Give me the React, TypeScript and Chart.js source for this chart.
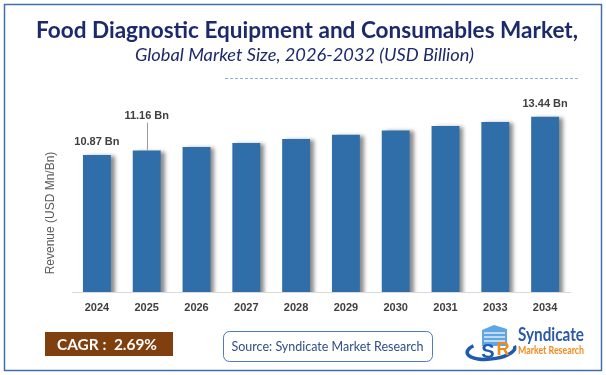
import React, { useEffect, useRef } from "react";
import { Chart, registerables } from "chart.js";

Chart.register(...registerables);

const categories = ["2024", "2025", "2026", "2027", "2028", "2029", "2030", "2031", "2033", "2034"];
const values = [10.87, 11.16, 11.41, 11.68, 11.95, 12.23, 12.52, 12.83, 13.1, 13.44];
const valueLabels = ["10.87 Bn", "11.16 Bn", "", "", "", "", "", "", "", "13.44 Bn"];
const titleText = "Food Diagnostic Equipment and Consumables Market,";
const subtitleText = "Global Market Size, 2026-2032 (USD Billion)";
const yAxisTitle = "Revenue (USD Mn/Bn)";
const cagrText = "CAGR :  2.69%";
const sourceText = "Source: Syndicate Market Research";

function fitText(
  ctx: CanvasRenderingContext2D,
  text: string,
  cx: number,
  y: number,
  width: number,
  font: string,
  color: string
) {
  ctx.save();
  ctx.font = font;
  const w = ctx.measureText(text).width || 1;
  ctx.translate(cx, y);
  ctx.scale(width / w, 1);
  ctx.textAlign = "center";
  ctx.textBaseline = "alphabetic";
  ctx.fillStyle = color;
  ctx.fillText(text, 0, 0);
  ctx.restore();
}

const decorPlugin = {
  id: "decor",
  beforeDraw(chart: any) {
    const ctx: CanvasRenderingContext2D = chart.ctx;
    ctx.save();
    ctx.fillStyle = "#ffffff";
    ctx.fillRect(0, 0, chart.width, chart.height);
    // outer border
    ctx.strokeStyle = "#3F6FAE";
    ctx.lineWidth = 1.5;
    ctx.strokeRect(4.5, 4.5, 597, 366);
    // dashed line
    ctx.strokeStyle = "#8FAEDB";
    ctx.lineWidth = 1;
    ctx.setLineDash([3, 2]);
    ctx.beginPath();
    ctx.moveTo(225, 78.5);
    ctx.lineTo(578, 78.5);
    ctx.stroke();
    ctx.setLineDash([]);
    ctx.restore();

    fitText(ctx, titleText, 307, 38, 542, "bold 22px Lato", "#1C2A6B");
    fitText(ctx, subtitleText, 304.5, 61, 339, "italic 17px Lato", "#1C2A6B");

    // y axis title
    ctx.save();
    ctx.translate(51, 213);
    ctx.rotate(-Math.PI / 2);
    ctx.font = "12px 'Liberation Sans'";
    ctx.fillStyle = "#595959";
    ctx.textAlign = "center";
    ctx.textBaseline = "middle";
    ctx.fillText(yAxisTitle, 0, 0);
    ctx.restore();

    // CAGR box
    ctx.save();
    ctx.fillStyle = "#7F3F0F";
    ctx.fillRect(45, 332, 128, 24);
    ctx.restore();
    fitText(ctx, cagrText, 107, 350, 100, "bold 16px Lato", "#ffffff");

    // Source box
    ctx.save();
    ctx.strokeStyle = "#4A7CC0";
    ctx.lineWidth = 1;
    ctx.beginPath();
    (ctx as any).roundRect(223.5, 331.5, 209, 30, 6);
    ctx.stroke();
    ctx.restore();
    fitText(ctx, sourceText, 327.5, 350.5, 192, "13px Lato", "#2E4E8A");

    // Logo
    ctx.save();
    ctx.strokeStyle = "#1E5BB0";
    ctx.lineWidth = 3.5;
    ctx.beginPath();
    ctx.ellipse(491, 350, 24, 9, -0.12, -0.05 * Math.PI, 1.25 * Math.PI);
    ctx.stroke();
    ctx.fillStyle = "#5FA6E2";
    ctx.beginPath();
    ctx.moveTo(482, 330);
    ctx.lineTo(494, 325);
    ctx.lineTo(507, 329);
    ctx.lineTo(507, 346);
    ctx.lineTo(482, 346);
    ctx.closePath();
    ctx.fill();
    ctx.strokeStyle = "#ffffff";
    ctx.lineWidth = 1.2;
    for (let i = 0; i < 3; i++) {
      ctx.beginPath();
      ctx.moveTo(484, 333 + i * 4);
      ctx.lineTo(505, 333 + i * 4);
      ctx.stroke();
    }
    ctx.font = "bold 20px 'Liberation Sans'";
    ctx.fillStyle = "#1E5BB0";
    ctx.textAlign = "center";
    ctx.textBaseline = "alphabetic";
    ctx.fillText("S", 488, 358);
    ctx.font = "bold 18px 'Liberation Sans'";
    ctx.fillStyle = "#F08A1E";
    ctx.fillText("R", 503, 355);
    ctx.restore();
    fitText(ctx, "Syndicate", 551, 341, 66, "bold 18px Lato", "#2B59A8");
    fitText(ctx, "Market Research", 551, 354, 66, "bold 11px Lato", "#F08A1E");
  },
  beforeDatasetsDraw(chart: any) {
    const ctx = chart.ctx;
    ctx.save();
    ctx.shadowColor = "rgba(0,0,0,0.45)";
    ctx.shadowOffsetX = 4;
    ctx.shadowOffsetY = 1;
    ctx.shadowBlur = 4;
  },
  afterDatasetsDraw(chart: any) {
    const ctx: CanvasRenderingContext2D = chart.ctx;
    ctx.restore();
    const meta = chart.getDatasetMeta(0);
    ctx.save();
    ctx.font = "bold 11px 'Liberation Sans'";
    ctx.fillStyle = "#404040";
    ctx.textAlign = "center";
    ctx.textBaseline = "middle";
    meta.data.forEach((bar: any, i: number) => {
      const txt = valueLabels[i];
      if (!txt) return;
      if (i === 1) {
        ctx.fillText(txt, bar.x, bar.y - 35);
        ctx.strokeStyle = "#9a9a9a";
        ctx.lineWidth = 1;
        ctx.beginPath();
        ctx.moveTo(Math.round(bar.x) + 0.5, bar.y - 28);
        ctx.lineTo(Math.round(bar.x) + 0.5, bar.y);
        ctx.stroke();
      } else {
        ctx.fillText(txt, bar.x, bar.y - 13);
      }
    });
    ctx.restore();
  },
};

export default function App() {
  const ref = useRef<HTMLCanvasElement | null>(null);
  useEffect(() => {
    if (!ref.current) return;
    const chart = new Chart(ref.current, {
      type: "bar",
      data: {
        labels: categories,
        datasets: [
          {
            data: values,
            backgroundColor: "#2F6EA9",
            borderWidth: 0,
            categoryPercentage: 1,
            barPercentage: 0.56,
          },
        ],
      },
      options: {
        responsive: false,
        animation: false,
        devicePixelRatio: 1,
        layout: { padding: { left: 72, right: 36, top: 100, bottom: 53 } },
        plugins: {
          legend: { display: false },
          tooltip: { enabled: false },
          title: { display: false },
        },
        scales: {
          x: {
            grid: { display: false, drawTicks: false },
            border: { display: true, color: "#D9D9D9", width: 1 },
            ticks: {
              padding: 9,
              color: "#404040",
              font: { family: "'Liberation Sans'", size: 11, weight: "bold" },
              maxRotation: 0,
            },
            afterFit: (scale: any) => {
              scale.height = 30;
            },
          },
          y: {
            display: false,
            min: 1.6,
            max: 14.58,
          },
        },
      },
      plugins: [decorPlugin],
    } as any);
    return () => chart.destroy();
  }, []);
  return (
    <div style={{ position: "fixed", left: 0, top: 0, width: 606, height: 375, background: "#fff" }}>
      <canvas ref={ref} width={606} height={375} style={{ display: "block", width: 606, height: 375 }} />
    </div>
  );
}
